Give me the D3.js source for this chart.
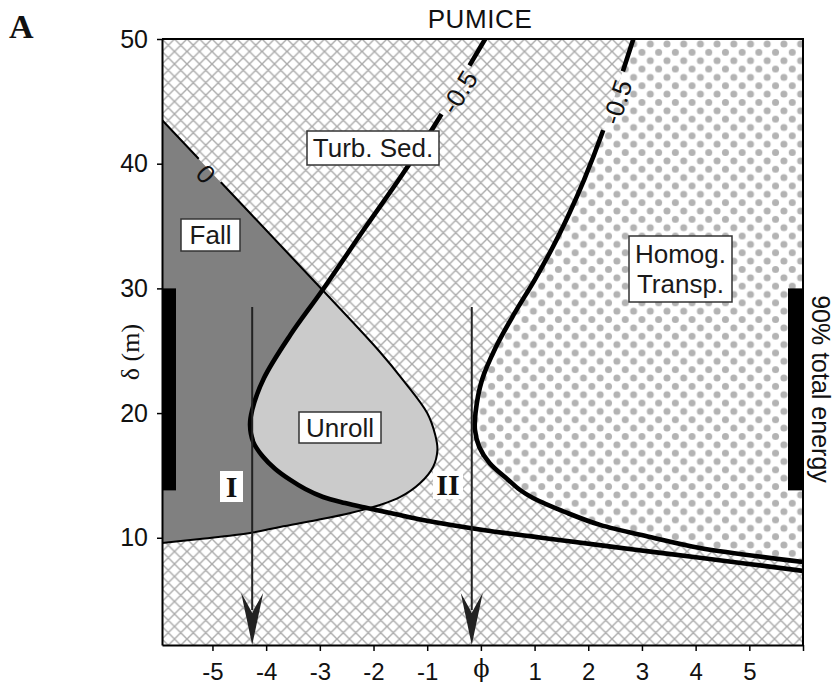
<!DOCTYPE html>
<html><head><meta charset="utf-8">
<script src="https://cdn.jsdelivr.net/npm/d3@7"></script>
<style>body{margin:0;background:#fff}</style>
</head><body>
<svg id="c" width="837" height="692" xmlns="http://www.w3.org/2000/svg"></svg>
<script>
// ---------- data ----------
const xTicks = [-5,-4,-3,-2,-1,0,1,2,3,4,5,6];
const xTickLabels = ["-5","-4","-3","-2","-1","\u03D5","1","2","3","4","5",""];
const yTicks = [10,20,30,40,50];
// "0" contour (Fall boundary, closes the Unroll lobe)
const zeroContour = [[-5.94,43.5],[-2.95,29.87],[-1.88,24.9],[-1.45,22.65],[-1.00,20.01],[-0.85,18.24],[-0.81,17.04],
  [-0.89,15.68],[-1.13,14.39],[-1.50,13.27],[-1.88,12.63],[-2.43,11.99],[-3.05,11.43],[-3.74,10.87],[-4.30,10.38],[-5.23,9.90],[-5.94,9.58]];
// left "-0.5" contour
const leftHalf = [[0.08,50],[-0.35,46.87],[-0.80,43.5],[-1.47,39.09],[-2.16,34.84],[-2.95,29.87],[-3.55,26.26],[-4.04,22.81],
  [-4.26,20.25],[-4.30,19.05],[-4.24,17.68],[-4.07,16.56],[-3.83,15.52],[-3.55,14.64],[-3.27,13.91],[-2.94,13.27],[-2.53,12.79],
  [-2.12,12.39],[-1.60,11.91],[-1.08,11.43],[0.04,10.63],[1.61,9.74],[2.84,9.06],[4.08,8.40],[6.0,7.34]];
// right "-0.5" contour
const rightHalf = [[2.84,50],[2.56,46.31],[2.26,42.46],[1.92,38.69],[1.65,36.05],[1.34,33.32],[1.00,30.67],[0.63,28.03],
  [0.28,25.30],[0.02,22.65],[-0.10,20.01],[-0.11,18.64],[-0.03,17.28],[0.16,16.0],[0.51,14.64],[0.73,13.83],[0.97,13.19],
  [1.61,11.99],[2.22,11.03],[3.15,10.06],[4.08,9.18],[6.0,8.06]];
const arrowX = [-4.26,-0.17];
const arrowLabels = ["I","II"];
const arrowTop = 28.5;
const energyBand = [13.8,30];
const regionLabels = [["Turb. Sed."],["Fall"],["Unroll"],["Homog.","Transp."]];
const contourLabels = ["0","-0.5","-0.5"];

// ---------- setup ----------
const W=837,H=692;
const svg=d3.select("#c");
const x=d3.scaleLinear().domain([-5.94,6]).range([162,803]);
const y=d3.scaleLinear().domain([1.4,50]).range([645,39]);
const SANS="'Liberation Sans', Arial, Helvetica, sans-serif";
const SERIF="'Liberation Serif','Times New Roman',serif";
const defs=svg.append("defs");

// crosshatch pattern
const hs=12.5;
const hatch=defs.append("pattern").attr("id","hatch").attr("patternUnits","userSpaceOnUse")
  .attr("width",hs).attr("height",hs).attr("x",162).attr("y",39);
hatch.append("rect").attr("width",hs).attr("height",hs).attr("fill","#fff");
hatch.append("path").attr("d",
  `M-3,-3L${hs+3},${hs+3}M${hs+3},-3L-3,${hs+3}`+
  `M${hs-3},-3L${hs+3},3M-3,${hs-3}L3,${hs+3}M-3,3L3,-3M${hs-3},${hs+3}L${hs+3},${hs-3}`)
  .attr("stroke","#ababab").attr("stroke-width",1.4).attr("fill","none");

// dot pattern
const ds=16.7;
const dots=defs.append("pattern").attr("id","dots").attr("patternUnits","userSpaceOnUse")
  .attr("width",ds).attr("height",ds).attr("x",166).attr("y",44);
dots.append("rect").attr("width",ds).attr("height",ds).attr("fill","#fff");
[[0,0],[ds,0],[0,ds],[ds,ds],[ds/2,ds/2]].forEach(p=>
  dots.append("circle").attr("cx",p[0]).attr("cy",p[1]).attr("r",3.5).attr("fill","#b3b3b3"));

// plot clip
defs.append("clipPath").attr("id","plotClip").append("rect")
  .attr("x",162).attr("y",39).attr("width",641).attr("height",606);

const line=d3.line().x(d=>x(d[0])).y(d=>y(d[1])).curve(d3.curveCatmullRom.alpha(0.5));
const corner=`L${x(6)},${y(50)}Z`;

// unroll clip (right of left -0.5 contour)
defs.append("clipPath").attr("id","unrollClip").append("path").attr("d",line(leftHalf)+corner);

// label gap mask for contour lines
const gaps=[[206,174,47,32,30],[459,92,-58,56,32],[617,102,-72,62,32]];
const mask=defs.append("mask").attr("id","gapMask").attr("maskUnits","userSpaceOnUse")
  .attr("x",0).attr("y",0).attr("width",W).attr("height",H);
mask.append("rect").attr("width",W).attr("height",H).attr("fill","#fff");
gaps.forEach(g=>mask.append("rect").attr("x",-g[3]/2).attr("y",-g[4]/2).attr("width",g[3]).attr("height",g[4])
  .attr("fill","#000").attr("transform",`translate(${g[0]},${g[1]}) rotate(${g[2]})`));

// ---------- regions ----------
const plot=svg.append("g").attr("clip-path","url(#plotClip)");
plot.append("rect").attr("x",162).attr("y",39).attr("width",641).attr("height",606).attr("fill","url(#hatch)");
plot.append("path").attr("d",line(rightHalf)+corner).attr("fill","url(#dots)");
plot.append("path").attr("d",line(zeroContour)+"Z").attr("fill","#808080");
plot.append("g").attr("clip-path","url(#unrollClip)")
  .append("path").attr("d",line(zeroContour)+"Z").attr("fill","#cbcbcb");

// contour lines
const cl=plot.append("g").attr("mask","url(#gapMask)").attr("fill","none").attr("stroke","#000");
cl.append("path").attr("d",line(zeroContour)).attr("stroke-width",2);
cl.append("path").attr("d",line(leftHalf)).attr("stroke-width",4.6);
cl.append("path").attr("d",line(rightHalf)).attr("stroke-width",4.6);

gaps.forEach((g,i)=>svg.append("text").attr("transform",`translate(${g[0]},${g[1]}) rotate(${g[2]})`)
  .attr("text-anchor","middle").attr("dy","0.36em").attr("font-family",SANS).attr("font-size",26)
  .attr("fill","#111").text(contourLabels[i]));

// energy bars
[[162,176],[788,803]].forEach(b=>svg.append("rect").attr("x",b[0]).attr("width",b[1]-b[0])
  .attr("y",y(energyBand[1])).attr("height",y(energyBand[0])-y(energyBand[1])).attr("fill","#000"));

// arrows
arrowX.forEach(ax=>{
  const px=x(ax), tip=y(1.4);
  svg.append("line").attr("x1",px).attr("x2",px).attr("y1",y(arrowTop)).attr("y2",tip-35)
    .attr("stroke","#222").attr("stroke-width",2);
  svg.append("path").attr("d",`M${px},${tip}L${px-11},${tip-52}Q${px-3},${tip-38} ${px},${tip-32}Q${px+3},${tip-38} ${px+11},${tip-52}Z`)
    .attr("fill","#222");
});

// region labels
function boxLabel(lines,cx,cy,bw,bh){
  const g=svg.append("g");
  g.append("rect").attr("x",cx-bw/2).attr("y",cy-bh/2).attr("width",bw).attr("height",bh)
    .attr("fill","#fff").attr("stroke","#333").attr("stroke-width",1.5);
  const lh=30.5, n=lines.length;
  lines.forEach((t,i)=>g.append("text").attr("x",cx).attr("y",cy+(i-(n-1)/2)*lh).attr("dy","0.35em")
    .attr("text-anchor","middle").attr("font-family",SANS).attr("font-size",26).attr("fill","#1a1a1a").text(t));
}
boxLabel(regionLabels[0],373,148,132,34);
boxLabel(regionLabels[1],210.5,235,59,32);
boxLabel(regionLabels[2],340,427.5,82,31);
boxLabel(regionLabels[3],680.5,269,103,66);

// I / II labels
[[231.5,486.5,23,31],[448,485,30,28]].forEach((p,i)=>{
  svg.append("rect").attr("x",p[0]-p[2]/2).attr("y",p[1]-p[3]/2).attr("width",p[2]).attr("height",p[3]).attr("fill","#fff");
  svg.append("text").attr("x",p[0]).attr("y",p[1]).attr("dy","0.34em").attr("text-anchor","middle")
    .attr("font-family",SERIF).attr("font-weight","bold").attr("font-size",30).attr("fill","#111").text(arrowLabels[i]);
});

// ---------- axes ----------
const xa=svg.append("g").attr("transform","translate(0,645)")
  .call(d3.axisBottom(x).tickValues(xTicks).tickSize(6).tickSizeOuter(0).tickPadding(12)
    .tickFormat((d,i)=>xTickLabels[i]));
xa.select(".domain").attr("stroke-width",2);
xa.selectAll(".tick line").attr("stroke-width",1.5);
xa.selectAll(".tick text").attr("font-family",SANS).attr("font-size",24).attr("fill","#111");
xa.selectAll(".tick text").filter((d)=>d===0).attr("font-family","'DejaVu Serif', "+SERIF).attr("font-size",24).attr("dy","0.6em");

const ya=svg.append("g").attr("transform","translate(162,0)")
  .call(d3.axisLeft(y).tickValues(yTicks).tickSize(5).tickSizeOuter(0).tickPadding(9));
ya.select(".domain").attr("stroke-width",2);
ya.selectAll(".tick line").attr("stroke-width",1.5);
ya.selectAll(".tick text").attr("font-family",SANS).attr("font-size",25).attr("fill","#111");

// frame top/right
svg.append("path").attr("d",`M162,39H803V645`).attr("fill","none").attr("stroke","#000").attr("stroke-width",2);

// titles
svg.append("text").attr("x",480).attr("y",28).attr("text-anchor","middle").attr("font-family",SANS)
  .attr("font-size",26).attr("letter-spacing",0.6).attr("fill","#111").text("PUMICE");
svg.append("text").attr("x",9).attr("y",38).attr("font-family",SERIF).attr("font-weight","bold")
  .attr("font-size",34).attr("fill","#111").text("A");
svg.append("text").attr("transform","translate(139,352) rotate(-90)").attr("text-anchor","middle")
  .attr("font-family",SERIF).attr("font-size",26).attr("fill","#111").text("\u03B4 (m)");
svg.append("text").attr("transform","translate(812,389) rotate(90)").attr("text-anchor","middle")
  .attr("font-family",SANS).attr("font-size",25).attr("fill","#111").text("90% total energy");
</script>
</body></html>
